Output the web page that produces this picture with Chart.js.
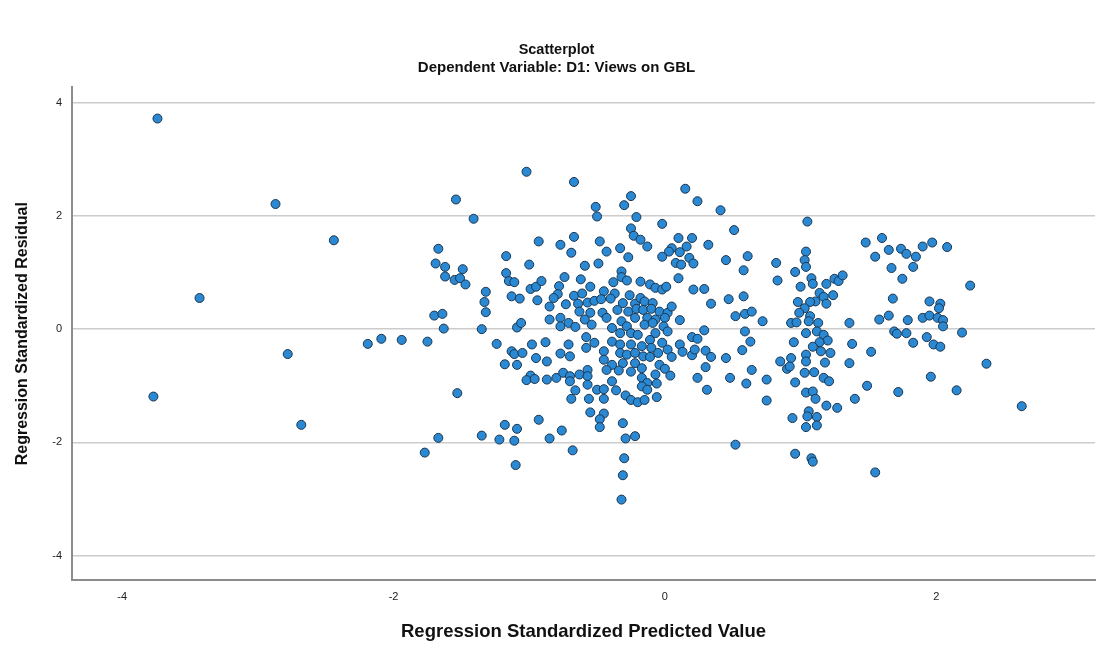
<!DOCTYPE html>
<html>
<head>
<meta charset="utf-8">
<title>Scatterplot</title>
<script src="https://cdn.jsdelivr.net/npm/chart.js@4.4.1/dist/chart.umd.min.js"></script>
<style>
  html, body { margin: 0; padding: 0; background: #ffffff; }
  canvas { display: block; }
</style>
</head>
<body>
<canvas id="chart" width="1113" height="650"></canvas>
<script>
// Regression Standardized Predicted Value (x) for each case
const predicted = [
  -3.74,-2.87,-2.44,-3.43,-2.78,-2.19,-2.09,-3.77,-2.68,
  -1.94,-1.75,-1.63,-1.35,-1.53,-1.67,-1.77,-1.35,-1.18,-1.09,-1.22,-1.11,-1.10,-1.24,-1.13,-1.11,-1.05,-0.98,-0.95,-1.18,-1.09,-0.99,-1.02,-0.96,-0.93,-1.09,-1.06,
  -1.02,-1.54,-1.41,-1.67,-1.69,-1.62,-1.49,-1.62,-1.55,-1.51,-1.47,-1.32,-1.33,-1.32,-1.70,-1.64,-1.17,-1.17,-1.15,-1.11,-1.13,-1.07,-1.00,-0.99,-0.95,-0.93,-0.94,
  -0.67,-0.51,-0.50,-0.30,-0.25,-0.21,-0.25,-0.23,-0.18,-0.77,-0.67,-0.69,-0.48,-0.43,-0.33,-0.27,-0.49,-0.59,-0.74,-0.62,-0.91,-0.32,-0.32,-0.38,-0.28,-0.55,-0.78,-0.79,-0.67,-0.61,-0.45,-0.37,-0.26,-0.18,-0.82,-0.85,-0.73,-0.64,-0.57,-0.52,-0.47,-0.40,-0.31,-0.22,-0.18,-0.63,-0.55,-0.46,-0.35,-0.27,-0.21,-0.85,-0.77,-0.71,-0.59,-0.43,-0.32,-0.22,
  -0.77,-0.66,-0.54,-0.39,-0.33,-0.28,-0.25,-0.20,-0.88,-0.71,-0.58,-0.52,-0.58,-0.77,-0.70,-0.87,-0.45,-0.39,-0.33,-0.25,-0.33,-0.28,-0.22,-0.17,-0.45,-0.39,-0.31,-0.22,-0.17,-0.43,-0.34,-0.25,-0.87,-0.80,-0.75,-0.70,-0.70,-0.63,-0.57,-0.57,-0.57,-0.50,-0.45,-0.39,-0.36,-0.29,-0.25,-0.20,-0.66,-0.69,-0.56,-0.45,-0.55,-0.45,-0.48,-0.48,-0.31,-0.76,-0.85,-0.68,-0.29,-0.22,-0.30,-0.31,-0.32,
  0.15,0.24,0.41,0.51,-0.02,0.10,0.20,0.16,0.05,0.03,0.11,-0.02,0.32,0.08,0.12,0.18,0.21,0.45,0.58,0.61,-0.13,0.10,-0.11,-0.07,-0.02,0.01,0.21,0.29,0.34,0.47,0.58,0.52,0.59,0.11,-0.15,-0.09,-0.16,-0.10,-0.04,0.02,0.05,-0.13,-0.07,0.00,
  0.29,0.20,0.24,0.11,0.13,0.20,0.22,0.30,0.34,0.30,0.24,0.31,0.45,0.48,0.60,0.57,0.59,0.52,-0.15,-0.09,-0.01,0.02,-0.07,-0.11,-0.02,-0.10,0.02,-0.05,0.05,-0.16,-0.11,-0.04,0.00,-0.07,0.04,-0.17,-0.13,-0.06,-0.17,-0.13,-0.06,-0.15,
  1.05,0.82,0.83,1.04,1.03,1.04,0.96,1.08,1.09,1.00,1.19,1.25,1.28,1.31,1.14,1.17,1.24,1.19,1.11,1.07,0.98,1.03,0.99,1.07,0.93,1.13,0.72,1.36,0.64,1.48,1.55,1.60,1.58,
  0.97,1.06,0.63,1.04,1.12,1.17,1.20,1.14,0.95,1.09,1.15,1.22,1.38,1.52,1.04,0.93,0.85,0.90,0.92,1.04,1.18,1.36,0.64,1.03,1.10,1.17,1.21,0.75,0.96,1.49,1.04,1.09,1.11,1.40,0.75,1.19,1.27,1.06,1.05,1.12,0.94,1.04,1.12,0.96,1.08,1.09,1.55,
  1.65,1.74,1.78,1.85,1.90,1.97,2.08,1.67,1.83,1.75,2.25,1.68,1.95,2.03,2.02,1.65,1.79,1.90,1.95,2.01,2.05,
  2.05,1.69,1.71,1.78,1.93,2.19,1.83,1.98,2.03,2.37,1.96,1.72,2.15,2.63
];

// Regression Standardized Residual (y), same order as predicted
const residual = [
  3.72,2.21,1.57,0.55,-0.44,-0.26,-0.17,-1.19,-1.69,
  -0.19,-0.22,0.01,0.00,-1.13,-1.92,-2.18,-1.88,-1.69,-1.76,-1.95,-1.97,-2.40,-0.26,-0.39,-0.44,-0.42,-0.27,-0.51,-0.62,-0.63,-0.82,-0.90,-0.88,-1.60,0.03,0.11,
  2.78,2.29,1.95,1.42,1.16,1.10,1.06,0.93,0.87,0.90,0.79,0.66,0.48,0.30,0.24,0.27,1.29,0.99,0.85,0.83,0.58,0.54,1.14,0.71,0.75,1.55,0.51,
  2.60,2.16,1.99,2.19,2.35,1.98,1.78,1.65,1.58,1.49,1.63,1.35,1.55,1.37,1.43,1.27,1.16,1.12,0.92,0.88,0.85,1.02,0.92,0.83,0.86,0.75,0.76,0.62,0.59,0.63,0.67,0.63,0.60,0.84,0.55,0.40,0.44,0.45,0.47,0.50,0.53,0.54,0.46,0.45,0.55,0.31,0.29,0.29,0.34,0.31,0.36,0.17,0.20,0.11,0.17,0.20,0.14,0.20,
  0.05,0.04,0.08,0.02,-0.07,0.05,-0.07,-0.10,-0.23,-0.27,-0.14,-0.24,-0.33,-0.43,-0.48,-0.57,-0.39,-0.22,-0.27,-0.27,-0.42,-0.45,-0.42,-0.30,-0.54,-0.63,-0.60,-0.60,-0.69,-0.72,-0.73,-0.75,-0.89,-0.86,-0.77,-0.83,-0.92,-0.80,-0.72,-0.83,-0.98,-1.07,-1.06,-0.92,-1.08,-1.17,-1.25,-1.29,-1.08,-1.23,-1.23,-1.23,-1.47,-1.49,-1.59,-1.73,-1.66,-1.79,-1.93,-2.14,-1.93,-1.89,-2.28,-2.58,-3.01,
  2.48,2.26,2.10,1.75,1.86,1.61,1.61,1.46,1.43,1.37,1.36,1.28,1.49,1.17,1.14,1.26,1.16,1.22,1.04,1.29,1.46,0.90,0.79,0.73,0.70,0.75,0.70,0.71,0.45,0.53,0.58,0.23,0.27,0.16,0.49,0.46,0.34,0.36,0.31,0.29,0.40,0.20,0.17,0.20,
  -0.02,-0.14,-0.17,-0.27,-0.40,-0.46,-0.36,-0.38,-0.49,-0.67,-0.86,-1.07,-0.51,-0.86,-0.96,-0.37,-0.04,-2.04,0.08,0.11,0.05,-0.04,-0.07,-0.19,-0.24,-0.33,-0.36,-0.42,-0.49,-0.48,-0.49,-0.63,-0.70,-0.80,-0.82,-0.86,-0.95,-0.96,-1.01,-1.07,-1.20,-1.25,
  1.90,1.17,0.86,1.37,1.22,1.10,1.01,0.90,0.80,0.75,0.80,0.89,0.85,0.95,0.64,0.57,0.60,0.45,0.49,0.48,0.48,0.37,0.29,0.23,0.11,0.11,0.14,0.11,0.31,1.53,1.28,1.61,0.17,
  0.12,0.14,-0.22,-0.07,-0.04,-0.10,-0.20,-0.23,-0.23,-0.31,-0.39,-0.42,-0.26,-0.40,-0.45,-0.51,-0.57,-0.70,-0.66,-0.57,-0.59,-0.60,-0.72,-0.77,-0.76,-0.86,-0.92,-0.89,-0.94,-1.00,-1.12,-1.10,-1.23,-1.23,-1.26,-1.35,-1.39,-1.45,-1.54,-1.55,-1.57,-1.73,-1.70,-2.20,-2.28,-2.34,-2.53,
  1.40,1.42,1.33,1.28,1.46,1.53,1.45,1.08,1.10,0.89,0.77,0.54,0.49,0.45,0.37,0.24,0.16,0.20,0.24,0.20,0.16,
  0.05,-0.04,-0.08,-0.07,-0.14,-0.06,-0.24,-0.27,-0.31,-0.61,-0.84,-1.11,-1.08,-1.36
];

// Axis ticks
const xTickValues = [-4, -2, 0, 2];
const yTickValues = [-4, -2, 0, 2, 4];

// Axis extents
const xRange = [-4.37, 3.17];
const yRange = [-4.43, 4.27];

const FONT = "'Liberation Sans', Arial, Helvetica, sans-serif";

const points = predicted.map((x, i) => ({ x: x, y: residual[i] }));

new Chart(document.getElementById('chart'), {
  type: 'scatter',
  data: {
    datasets: [{
      data: points,
      pointRadius: 4.5,
      pointHoverRadius: 4.5,
      pointBorderWidth: 1,
      pointBackgroundColor: '#2a89d2',
      pointBorderColor: '#1a3550'
    }]
  },
  options: {
    responsive: false,
    animation: false,
    devicePixelRatio: 1,
    // equal side padding keeps the titles centred on the canvas
    layout: { padding: { top: 33, right: 18, bottom: 0, left: 18 } },
    plugins: {
      legend: { display: false },
      tooltip: { enabled: false },
      title: {
        display: true,
        text: 'Scatterplot',
        color: '#111111',
        font: { family: FONT, size: 14.5, weight: 'bold' },
        padding: { top: 8, bottom: 0 }
      },
      subtitle: {
        display: true,
        text: 'Dependent Variable: D1: Views on GBL',
        color: '#111111',
        font: { family: FONT, size: 15, weight: 'bold' },
        padding: { top: 0, bottom: 11 }
      }
    },
    scales: {
      x: {
        type: 'linear',
        min: xRange[0],
        max: xRange[1],
        afterBuildTicks: (scale) => { scale.ticks = xTickValues.map(v => ({ value: v })); },
        afterFit: (scale) => { scale.height = 70; },
        grid: { display: false, drawTicks: false },
        border: { display: true, color: '#8c8c8c', width: 2 },
        ticks: {
          padding: 10,
          color: '#222222',
          font: { family: FONT, size: 11 },
          maxRotation: 0
        },
        title: {
          display: true,
          text: 'Regression Standardized Predicted Value',
          color: '#111111',
          font: { family: FONT, size: 18.5, weight: 'bold' },
          padding: { top: 7, bottom: 7 }
        }
      },
      y: {
        type: 'linear',
        min: yRange[0],
        max: yRange[1],
        afterBuildTicks: (scale) => { scale.ticks = yTickValues.map(v => ({ value: v })); },
        afterFit: (scale) => { scale.width = 54; },
        grid: { display: true, drawTicks: false, color: '#cccccc', lineWidth: 1.5 },
        border: { display: true, color: '#8c8c8c', width: 2 },
        ticks: {
          padding: 10,
          color: '#222222',
          font: { family: FONT, size: 11 }
        },
        title: {
          display: true,
          text: 'Regression Standardized Residual',
          color: '#111111',
          font: { family: FONT, size: 16, weight: 'bold' },
          padding: { top: -5, bottom: -5 }
        }
      }
    }
  }
});
</script>
</body>
</html>
